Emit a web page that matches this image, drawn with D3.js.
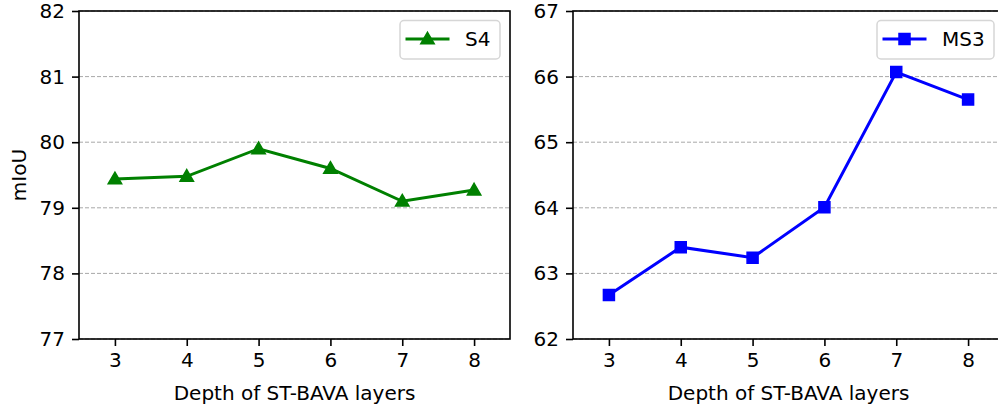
<!DOCTYPE html>
<html>
<head>
<meta charset="utf-8">
<script src="https://cdn.jsdelivr.net/npm/d3@7"></script>
<style>
    body { margin: 0; background: #fff; }
    text { font-family: "DejaVu Sans", sans-serif; }
</style>
</head>
<body>
<div id="chart"></div>
<script>
const depths = [3, 4, 5, 6, 7, 8];
const s4Miou = [79.44, 79.48, 79.90, 79.60, 79.10, 79.27];
const ms3Miou = [62.67, 63.40, 63.24, 64.01, 66.07, 65.65];
const s4Ticks = [77, 78, 79, 80, 81, 82];
const ms3Ticks = [62, 63, 64, 65, 66, 67];

const width = 998, height = 412;
const fontSize = 20;

const svg = d3.select("#chart")
    .append("svg")
    .attr("width", width)
    .attr("height", height);

function drawPanel(left, right, values, ticks, name, color, marker, ylabel) {
    const top = 11, bottom = 339;

    const x = d3.scaleLinear()
        .domain([2.5, 8.5])
        .range([left, right]);

    const y = d3.scaleLinear()
        .domain([ticks[0], ticks[ticks.length - 1]])
        .range([bottom, top]);

    const g = svg.append("g");

    // dashed horizontal grid
    g.selectAll("line.grid")
        .data(ticks)
        .enter().append("line")
        .attr("class", "grid")
        .attr("x1", left)
        .attr("x2", right)
        .attr("y1", d => y(d))
        .attr("y2", d => y(d))
        .attr("stroke", "#a8a8a8")
        .attr("stroke-width", 1)
        .attr("stroke-dasharray", "4,2");

    const xAxis = g.append("g")
        .attr("transform", `translate(0,${bottom})`)
        .call(d3.axisBottom(x).tickValues(depths).tickFormat(d3.format("d")).tickSize(7).tickPadding(7));

    const yAxis = g.append("g")
        .attr("transform", `translate(${left},0)`)
        .call(d3.axisLeft(y).tickValues(ticks).tickFormat(d3.format("d")).tickSize(7).tickPadding(7));

    [xAxis, yAxis].forEach(ax => {
        ax.select(".domain").remove();
        ax.selectAll(".tick line").attr("stroke", "#000").attr("stroke-width", 1.6);
        ax.selectAll(".tick text")
            .attr("fill", "#000")
            .style("font-size", fontSize + "px")
            .style("font-family", "DejaVu Sans");
    });

    // spines
    g.append("rect")
        .attr("x", left)
        .attr("y", top)
        .attr("width", right - left)
        .attr("height", bottom - top)
        .attr("fill", "none")
        .attr("stroke", "#000")
        .attr("stroke-width", 1.6);

    const line = d3.line()
        .x((d, i) => x(depths[i]))
        .y(d => y(d));

    g.append("path")
        .datum(values)
        .attr("d", line)
        .attr("fill", "none")
        .attr("stroke", color)
        .attr("stroke-width", 3);

    const sym = d3.symbol()
        .type(marker == "square" ? d3.symbolSquare : d3.symbolTriangle)
        .size(marker == "square" ? 121 : 78);

    g.selectAll("path.marker")
        .data(values)
        .enter().append("path")
        .attr("class", "marker")
        .attr("d", sym)
        .attr("transform", (d, i) => `translate(${x(depths[i])},${y(d) + (marker == "square" ? 0 : 1)})`)
        .attr("fill", color)
        .attr("stroke", color)
        .attr("stroke-width", 1.5);

    // x label
    g.append("text")
        .attr("x", (left + right) / 2)
        .attr("y", 399.5)
        .attr("text-anchor", "middle")
        .style("font-size", fontSize + "px")
        .text("Depth of ST-BAVA layers");

    if (ylabel) {
        g.append("text")
            .attr("transform", `translate(26,${(top + bottom) / 2}) rotate(-90)`)
            .attr("text-anchor", "middle")
            .style("font-size", fontSize + "px")
            .text(ylabel);
    }

    // legend, upper right
    const lw = name.length > 2 ? 117 : 100;
    const lx = right - 10 - lw, ly = 20.5;
    const leg = g.append("g").attr("transform", `translate(${lx},${ly})`);
    leg.append("rect")
        .attr("width", lw)
        .attr("height", 38.5)
        .attr("rx", 4)
        .attr("fill", "#fff")
        .attr("fill-opacity", 0.8)
        .attr("stroke", "#d6d6d6")
        .attr("stroke-width", 1.5);
    leg.append("line")
        .attr("x1", 5.5).attr("x2", 49.5)
        .attr("y1", 18.5).attr("y2", 18.5)
        .attr("stroke", color)
        .attr("stroke-width", 3);
    leg.append("path")
        .attr("d", sym)
        .attr("transform", `translate(27.5,${18.5 + (marker == "square" ? 0 : 1)})`)
        .attr("fill", color)
        .attr("stroke", color)
        .attr("stroke-width", 1.5);
    leg.append("text")
        .attr("x", 65)
        .attr("y", 25.5)
        .style("font-size", fontSize + "px")
        .text(name);
}

drawPanel(79, 510, s4Miou, s4Ticks, "S4", "#008000", "triangle", "mIoU");
drawPanel(573, 1004, ms3Miou, ms3Ticks, "MS3", "#0000ff", "square", null);
</script>
</body>
</html>
